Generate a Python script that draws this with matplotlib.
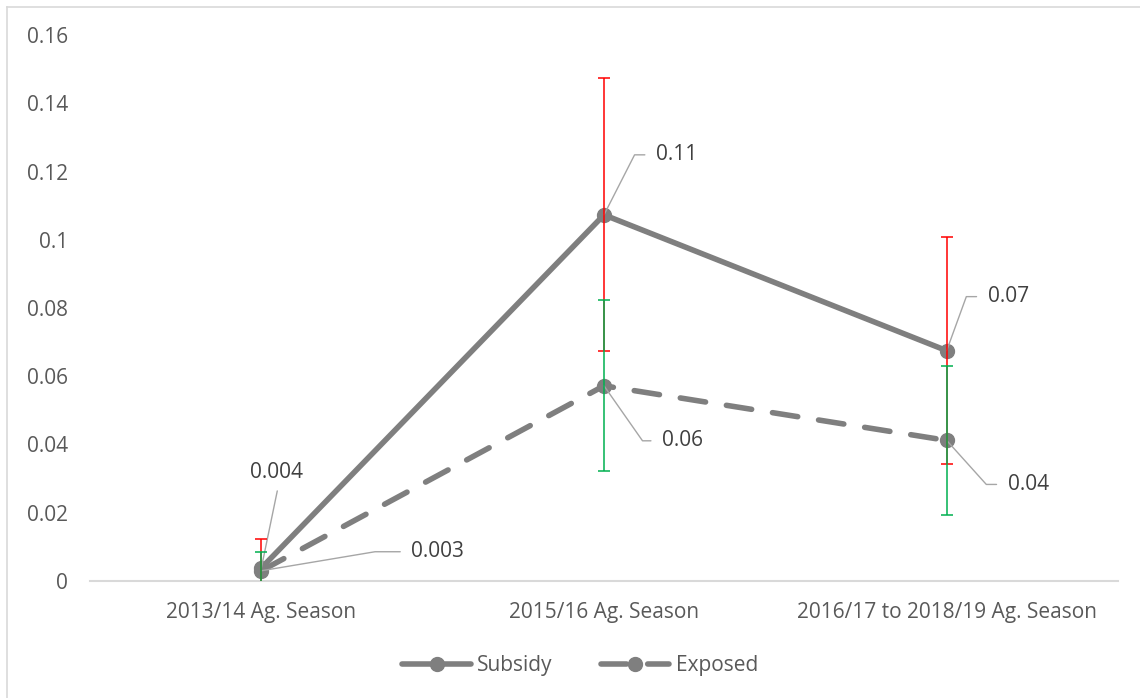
import matplotlib.pyplot as plt
from matplotlib.lines import Line2D

plt.rcParams['font.family'] = ['Open Sans', 'DejaVu Sans']

seasons = ['2013/14 Ag. Season', '2015/16 Ag. Season', '2016/17 to 2018/19 Ag. Season']
subsidy = [0.0038, 0.1073, 0.0675]
exposed = [0.0030, 0.0572, 0.0412]
subsidy_err = [0.0086, 0.0400, 0.0332]
exposed_err = [0.0055, 0.0251, 0.0219]
subsidy_labels = ['0.004', '0.11', '0.07']
exposed_labels = ['0.003', '0.06', '0.04']
yticks = [0, 0.02, 0.04, 0.06, 0.08, 0.1, 0.12, 0.14, 0.16]
ytick_labels = ['0', '0.02', '0.04', '0.06', '0.08', '0.1', '0.12', '0.14', '0.16']

grey = '#7f7f7f'
text_col = '#595959'
x = list(range(len(seasons)))

fig = plt.figure(figsize=(11.4, 6.98), dpi=100)
ax = fig.add_axes([90 / 1140, 1 - 581 / 698, 1028 / 1140, 546 / 698])

ax.plot(x, subsidy, color=grey, lw=4.0, marker='o', ms=10, label='Subsidy',
        solid_capstyle='round', zorder=3)
ax.plot(x, exposed, color=grey, lw=4.0, marker='o', ms=10, label='Exposed',
        dashes=(4.6, 3.8), dash_capstyle='round', zorder=3)

ax.errorbar(x, subsidy, yerr=subsidy_err, fmt='none', ecolor='#ff0000',
            elinewidth=1.1, capsize=4.3, capthick=1.1, zorder=4)
ax.errorbar(x, exposed, yerr=exposed_err, fmt='none', ecolor='#00b050',
            elinewidth=1.1, capsize=4.3, capthick=1.1, zorder=5)

# data labels with leader lines
lead = dict(arrowstyle='-', color='#a6a6a6', lw=1.0, shrinkB=0)
lab_kw = dict(textcoords='offset points', fontsize=15, color='#404040', va='center', ha='left')

ax.annotate(subsidy_labels[1], (x[1], subsidy[1]), xytext=(37.4, 43.2),
            arrowprops=dict(lead, shrinkA=6, relpos=(0, 0.5),
                            connectionstyle='angle,angleA=0,angleB=63,rad=0'), **lab_kw)
ax.annotate(subsidy_labels[2], (x[2], subsidy[2]), xytext=(29.5, 38.9),
            arrowprops=dict(lead, shrinkA=6, relpos=(0, 0.5),
                            connectionstyle='angle,angleA=0,angleB=70,rad=0'), **lab_kw)
ax.annotate(exposed_labels[1], (x[1], exposed[1]), xytext=(41.8, -39.6),
            arrowprops=dict(lead, shrinkA=6, relpos=(0, 0.5),
                            connectionstyle='angle,angleA=0,angleB=-55,rad=0'), **lab_kw)
ax.annotate(exposed_labels[2], (x[2], exposed[2]), xytext=(43.9, -31.7),
            arrowprops=dict(lead, shrinkA=6, relpos=(0, 0.5),
                            connectionstyle='angle,angleA=0,angleB=-48,rad=0'), **lab_kw)
ax.annotate(exposed_labels[0], (x[0], exposed[0]), xytext=(108, 13.7),
            arrowprops=dict(lead, shrinkA=6, relpos=(0, 0.5),
                            connectionstyle='angle,angleA=0,angleB=9.5,rad=0'), **lab_kw)
ax.annotate(subsidy_labels[0], (x[0], subsidy[0]), xytext=(10.8, 69),
            arrowprops=dict(lead, shrinkA=4, relpos=(0.55, 0)),
            textcoords='offset points', fontsize=15, color='#404040', va='center', ha='center')

ax.set_xlim(-0.5, 2.5)
ax.set_ylim(0, 0.16)
ax.set_xticks(x)
ax.set_xticklabels(seasons)
ax.set_yticks(yticks)
ax.set_yticklabels(ytick_labels)
ax.tick_params(length=0, labelsize=15, labelcolor=text_col)
ax.tick_params(axis='y', pad=16)
ax.tick_params(axis='x', pad=15)
for s in ['top', 'right', 'left']:
    ax.spines[s].set_visible(False)
ax.spines['bottom'].set_color('#d9d9d9')
ax.spines['bottom'].set_linewidth(1.5)

fig.legend(loc='center', bbox_to_anchor=(580 / 1140, 1 - 666 / 698), ncol=2, frameon=False,
           fontsize=15, labelcolor=text_col, handlelength=3.3, columnspacing=2.3,
           handletextpad=0.3)

# chart border
fig.add_artist(Line2D([7 / 1140, 7 / 1140], [0, 1 - 7 / 698], color='#d9d9d9', lw=1.2))
fig.add_artist(Line2D([7 / 1140, 1], [1 - 7 / 698, 1 - 7 / 698], color='#d9d9d9', lw=1.2))

fig.savefig('out.png', dpi=100)
